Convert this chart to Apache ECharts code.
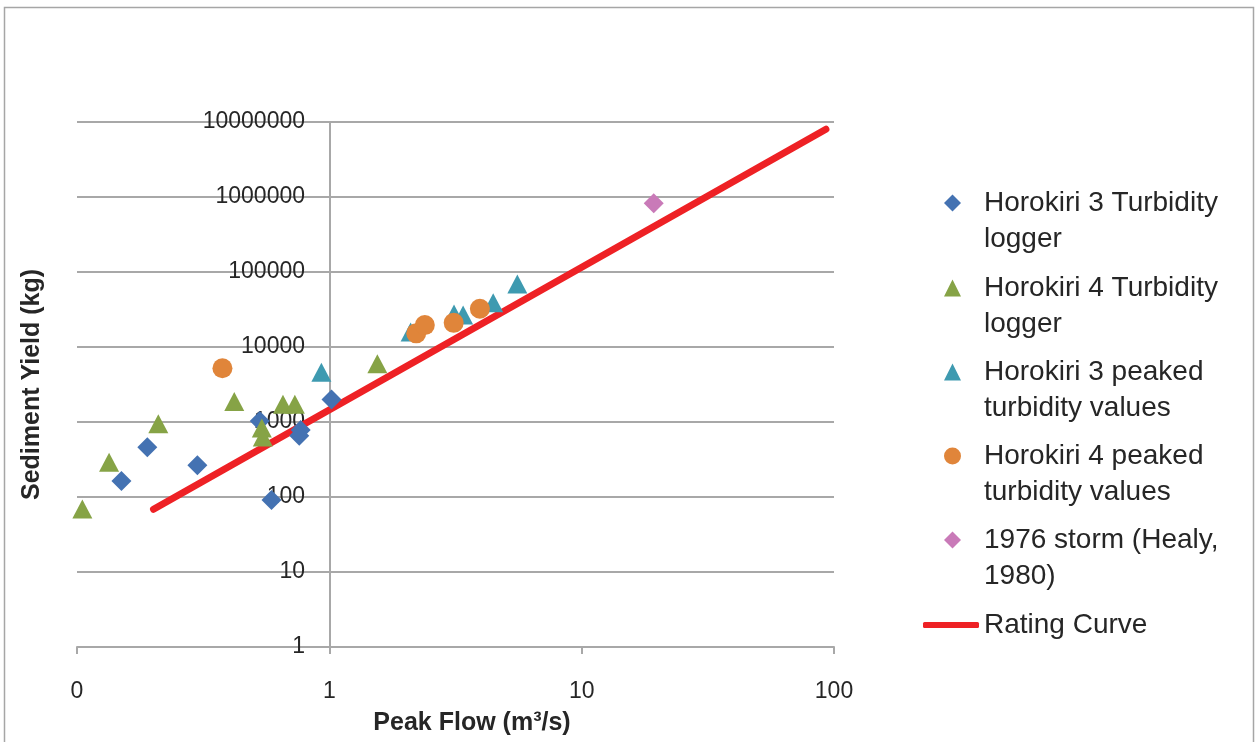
<!DOCTYPE html>
<html>
<head>
<meta charset="utf-8">
<script src="https://cdn.jsdelivr.net/npm/echarts@6/dist/echarts.min.js"></script>
<style>
html,body{margin:0;padding:0;background:#fff;}
#chart{width:1259px;height:742px;}
</style>
</head>
<body>
<div id="chart"></div>
<script>
// ---- data ----
var h3Logger = [[1.02, 2000], [0.53, 1030], [0.77, 780], [0.76, 655], [0.19, 460], [0.30, 265], [0.15, 163], [0.59, 91]];
var h4Logger = [[1.55, 6000], [0.42, 1870], [0.655, 1720], [0.73, 1720], [0.21, 950], [0.54, 830], [0.545, 630], [0.134, 290], [0.105, 69]];
var h3Peaked = [[0.93, 4600], [2.1, 15800], [3.12, 27500], [3.39, 26700], [4.46, 39000], [5.56, 69000]];
var h4Peaked = [[0.377, 5200], [2.21, 15200], [2.39, 19600], [3.11, 21000], [3.95, 32400]];
var storm1976 = [[19.3, 824000]];
var ratingCurve = [[0.201, 68.5], [92.9, 8000000]];

var seriesNames = ['Horokiri 3 Turbidity logger', 'Horokiri 4 Turbidity logger', 'Horokiri 3 peaked turbidity values', 'Horokiri 4 peaked turbidity values', '1976 storm (Healy, 1980)', 'Rating Curve'];
var legendLabels = ['Horokiri 3 Turbidity\nlogger', 'Horokiri 4 Turbidity\nlogger', 'Horokiri 3 peaked\nturbidity values', 'Horokiri 4 peaked\nturbidity values', '1976 storm (Healy,\n1980)', 'Rating Curve'];
var xTickLabels = ['0', '1', '10', '100'];
var yTickLabels = ['1', '10', '100', '1000', '10000', '100000', '1000000', '10000000'];

var colors = ['#4472B2', '#86A346', '#3E9AB0', '#E0853A', '#C97AB8', '#EE2125'];
var FONT = '"Liberation Sans", Arial, sans-serif';
var TXT = '#262626';
var GRIDC = '#a8a8a8';

var legendCenters = [203, 288, 372, 456, 540, 625];
var LH = 36;
var legends = seriesNames.map(function (name, i) {
  var isLine = i === 5;
  return {
    orient: 'vertical',
    left: isLine ? 923 : 944,
    top: isLine ? legendCenters[i] - LH / 2 : legendCenters[i] - LH * 1.5,
    padding: 0,
    itemWidth: isLine ? 56 : 17,
    itemHeight: isLine ? 6 : 17,
    selectedMode: false,
    itemStyle: {opacity: 1},
    data: [isLine ? {name: name, icon: 'roundRect'} : {name: name}],
    // leading empty line keeps the first text line level with the marker
    formatter: function () { return isLine ? legendLabels[i] : '\n' + legendLabels[i]; },
    textStyle: {
      fontFamily: FONT, fontSize: 28, color: TXT, lineHeight: LH,
      padding: isLine ? [0, 0, 0, 0] : [0, 0, 0, 18]
    }
  };
});

var chart = echarts.init(document.getElementById('chart'), null, {renderer: 'canvas'});
chart.setOption({
  backgroundColor: '#fff',
  animation: false,
  color: colors,
  graphic: [{
    type: 'rect', silent: true, z: -10,
    shape: {x: 4.5, y: 7.5, width: 1249, height: 760},
    style: {fill: 'none', stroke: '#a6a6a6', lineWidth: 1.5}
  }],
  legend: legends,
  grid: {left: 77, right: 425, top: 122, bottom: 95, containLabel: false, outerBoundsMode: 'none'},
  xAxis: {
    type: 'log', logBase: 10, min: 0.1, max: 100, splitNumber: 3,
    name: 'Peak Flow (m³/s)', nameLocation: 'middle', nameGap: 64,
    nameTextStyle: {fontFamily: FONT, fontSize: 25, fontWeight: 'bold', color: TXT, padding: [0, 0, 0, 33]},
    axisLine: {show: true, lineStyle: {color: GRIDC, width: 2}},
    axisTick: {show: true, length: 7, lineStyle: {color: GRIDC, width: 2}},
    axisLabel: {
      fontFamily: FONT, fontSize: 23, color: TXT, margin: 33, showMinLabel: true, showMaxLabel: true,
      formatter: function (v, idx) { return xTickLabels[idx]; }
    },
    splitLine: {show: false},
    minorTick: {show: false}
  },
  yAxis: {
    type: 'log', logBase: 10, min: 1, max: 10000000, splitNumber: 7,
    offset: -253,
    name: 'Sediment Yield (kg)', nameLocation: 'middle', nameGap: 285,
    nameTextStyle: {fontFamily: FONT, fontSize: 25, fontWeight: 'bold', color: TXT},
    axisLine: {show: true, lineStyle: {color: GRIDC, width: 2}},
    axisTick: {show: true, length: 5, lineStyle: {color: GRIDC, width: 2}},
    axisLabel: {
      fontFamily: FONT, fontSize: 23, color: TXT, margin: 25, showMinLabel: true, showMaxLabel: true,
      formatter: function (v, idx) { return yTickLabels[idx]; }
    },
    splitLine: {show: true, lineStyle: {color: GRIDC, width: 2}}
  },
  series: [
    {name: seriesNames[0], type: 'scatter', symbol: 'diamond', symbolSize: 20, data: h3Logger, z: 3, itemStyle: {opacity: 1}},
    {name: seriesNames[1], type: 'scatter', symbol: 'triangle', symbolSize: [20, 19], data: h4Logger, z: 3, itemStyle: {opacity: 1}},
    {name: seriesNames[2], type: 'scatter', symbol: 'triangle', symbolSize: [20, 19], data: h3Peaked, z: 3, itemStyle: {opacity: 1}},
    {name: seriesNames[3], type: 'scatter', symbol: 'circle', symbolSize: 20, data: h4Peaked, z: 3, itemStyle: {opacity: 1}},
    {name: seriesNames[4], type: 'scatter', symbol: 'diamond', symbolSize: 20, data: storm1976, z: 3, itemStyle: {opacity: 1}},
    {name: seriesNames[5], type: 'line', symbol: 'none', data: ratingCurve, z: 2,
     lineStyle: {color: colors[5], width: 7, cap: 'round'}, itemStyle: {color: colors[5]}}
  ]
});
</script>
</body>
</html>
